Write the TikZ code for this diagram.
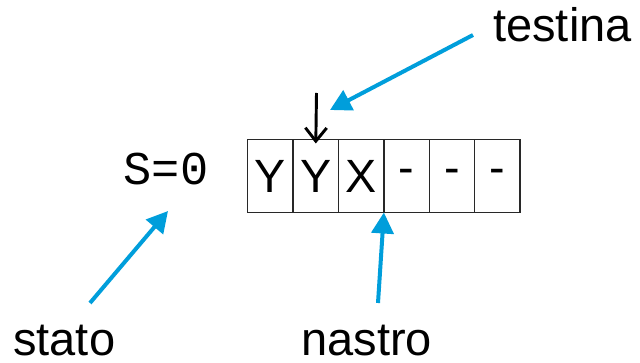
\documentclass[tikz,border=0pt]{standalone}
\usepackage{fontspec}
\setmainfont{Liberation Sans}
\newfontfamily\monofont{Liberation Mono}
\usetikzlibrary{arrows.meta}
\definecolor{pointer}{RGB}{0,158,219}
\definecolor{tapeline}{RGB}{40,40,40}
\begin{document}
\begin{tikzpicture}[x=0.75pt,y=-0.75pt,
  cell/.style={draw=tapeline,line width=1.1pt,minimum width=34.05pt,minimum height=54.75pt,
    inner sep=0pt,outer sep=0pt,font=\fontsize{35}{40}\selectfont},
  caption/.style={font=\fontsize{35.25}{40}\selectfont,inner sep=0pt,text depth=0pt},
  pointerarrow/.style={draw=pointer,line width=3pt,-{Triangle[length=15.75pt,width=16.5pt]}},
  headarrow/.style={draw=black,line width=2.2pt,-{Straight Barb[length=10pt,width=16pt]}}]
\useasboundingbox (0,0) rectangle (640,363);

% tape cells
\node[cell] (c1) at (270.4,176) {Y};
\node[cell] (c2) at (315.8,176) {Y};
\node[cell] (c3) at (361.2,176) {X};
\node[cell] (c4) at (406.6,176) {-};
\node[cell] (c5) at (452.0,176) {-};
\node[cell] (c6) at (497.4,176) {-};

% state
\node[inner sep=0pt,anchor=base,font=\monofont\fontsize{35.25}{40}\selectfont] (state) at (166,185) {S=0};

% labels
\node[caption,anchor=base west] (testina) at (493,42) {testina};
\node[caption,anchor=base west] (stato) at (13,356) {stato};
\node[caption,anchor=base west] (nastro) at (301,356) {nastro};

% read head
\coordinate (headtop) at (316.5,93);
\draw[headarrow] (headtop) -- ([yshift=-3pt]c2.north);

% pointer arrows
\coordinate (tfrom) at (473,35);
\coordinate (tto) at (330,110);
\draw[pointerarrow] (tfrom) -- (tto);

\coordinate (sfrom) at (90,303);
\coordinate (sto) at (168,211);
\draw[pointerarrow] (sfrom) -- (sto);

\coordinate (nfrom) at (378,303);
\draw[pointerarrow] (nfrom) -- (c3.south east);
\end{tikzpicture}
\end{document}
